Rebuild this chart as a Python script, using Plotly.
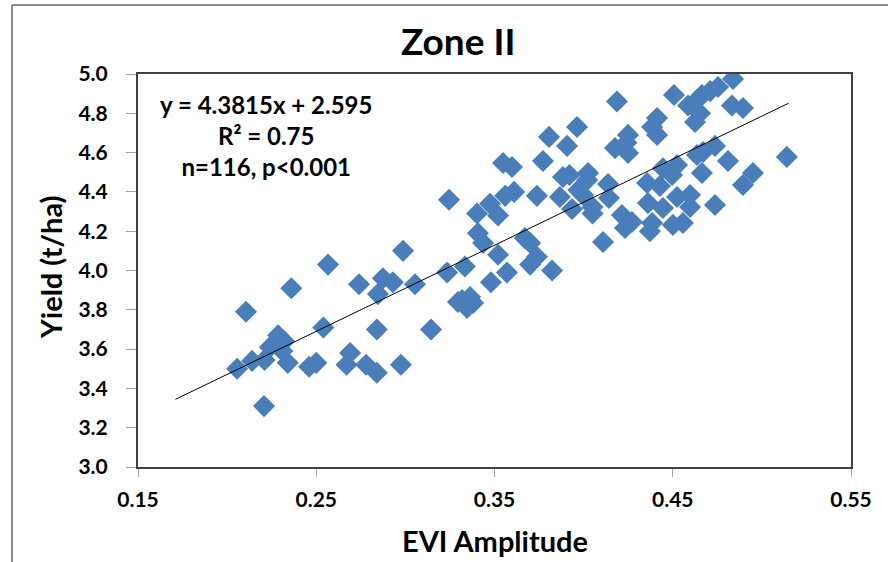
import plotly.graph_objects as go

evi = [0.2566, 0.274, 0.236, 0.2106, 0.254, 0.284, 0.2286, 0.232, 0.224, 0.231,
       0.214, 0.221, 0.2056, 0.234, 0.246, 0.250, 0.269, 0.267, 0.278, 0.284,
       0.2207, 0.2975, 0.2987, 0.2874, 0.293, 0.3054, 0.2846, 0.3144,
       0.3245, 0.3234, 0.3334, 0.3318, 0.3363, 0.3346, 0.3295, 0.338, 0.348, 0.357,
       0.352, 0.3738, 0.370, 0.3823, 0.3402, 0.352, 0.3475, 0.3407, 0.3436, 0.367,
       0.370, 0.356, 0.361, 0.3738, 0.3548, 0.3598, 0.3772, 0.3806, 0.3963, 0.3907,
       0.3867, 0.3884, 0.392, 0.4025, 0.402, 0.397, 0.3997, 0.3935, 0.405, 0.405,
       0.4109, 0.4137, 0.4142, 0.4187, 0.4176, 0.4249, 0.424, 0.4249, 0.4215, 0.4271,
       0.4232, 0.4838, 0.4754, 0.471, 0.4664, 0.4507, 0.4636, 0.4586, 0.4832, 0.4894,
       0.4653, 0.4625, 0.4412, 0.4384, 0.4412, 0.4636, 0.467, 0.4737, 0.481, 0.514,
       0.4524, 0.4445, 0.4496, 0.4664, 0.495, 0.4894, 0.4356, 0.4428, 0.4524, 0.4597,
       0.4361, 0.4445, 0.4597, 0.4737, 0.4384, 0.4372, 0.4501, 0.4557]
yld = [4.03, 3.93, 3.91, 3.79, 3.71, 3.70, 3.67, 3.64, 3.61, 3.59,
       3.54, 3.545, 3.50, 3.53, 3.51, 3.53, 3.58, 3.52, 3.52, 3.48,
       3.31, 3.52, 4.10, 3.96, 3.94, 3.93, 3.88, 3.70,
       4.36, 3.99, 4.02, 3.85, 3.865, 3.81, 3.84, 3.835, 3.94, 3.99,
       4.08, 4.07, 4.03, 4.00, 4.29, 4.28, 4.34, 4.19, 4.14, 4.165,
       4.14, 4.38, 4.40, 4.38, 4.547, 4.527, 4.557, 4.68, 4.73, 4.634,
       4.374, 4.476, 4.486, 4.496, 4.46, 4.41, 4.384, 4.313, 4.323, 4.29,
       4.145, 4.44, 4.369, 4.86, 4.623, 4.69, 4.65, 4.598, 4.282, 4.247,
       4.216, 4.975, 4.934, 4.913, 4.893, 4.893, 4.868, 4.84, 4.84, 4.827,
       4.80, 4.756, 4.776, 4.73, 4.69, 4.588, 4.603, 4.634, 4.557, 4.578,
       4.537, 4.52, 4.486, 4.496, 4.496, 4.435, 4.445, 4.43, 4.374, 4.384,
       4.343, 4.318, 4.323, 4.333, 4.242, 4.20, 4.232, 4.242]

slope = 4.3815
intercept = 2.595
trend_x = [0.171, 0.515]
trend_y = [slope * v + intercept for v in trend_x]

x_ticks = [0.15, 0.25, 0.35, 0.45, 0.55]
y_ticks = [3.0, 3.2, 3.4, 3.6, 3.8, 4.0, 4.2, 4.4, 4.6, 4.8, 5.0]

FONT = "Lato"
L, T, W, H = 138, 74, 713, 393  # plot area in pixels


def px(xp):
    return (xp - L) / W


def py(yp):
    return (T + H - yp) / H


fig = go.Figure()
fig.add_trace(go.Scatter(x=evi, y=yld, mode="markers",
                         marker=dict(symbol="diamond", size=17, color="#4A7EBB",
                                     line=dict(width=0)),
                         showlegend=False))
fig.add_trace(go.Scatter(x=trend_x, y=trend_y, mode="lines",
                         line=dict(color="black", width=1), showlegend=False))

fig.update_layout(
    width=888, height=562,
    margin=dict(l=L, r=888 - L - W, t=T, b=562 - T - H),
    paper_bgcolor="white", plot_bgcolor="white",
    title=dict(text="<b>Zone II</b>", x=0.516, xanchor="center", y=0.925, yanchor="middle",
               font=dict(family=FONT, size=37, color="black")),
    xaxis=dict(range=[0.15, 0.55], tickvals=x_ticks,
               ticktext=[f"<b>{v:.2f}</b>" for v in x_ticks],
               showgrid=False, zeroline=False, showline=True, linecolor="#404040", linewidth=2,
               mirror=True, ticks="outside", ticklen=8, tickcolor="#a0a0a0",
               ticklabelstandoff=5,
               tickfont=dict(family=FONT, size=21, color="black")),
    yaxis=dict(range=[3.0, 5.0], tickvals=y_ticks,
               ticktext=[f"<b>{v:.1f}</b>" for v in y_ticks],
               showgrid=False, zeroline=False, showline=True, linecolor="#404040", linewidth=2,
               mirror=True, ticks="outside", ticklen=10, tickcolor="#a0a0a0",
               ticklabelstandoff=14,
               tickfont=dict(family=FONT, size=21, color="black")),
    font=dict(family=FONT, color="black"),
)

# axis titles
fig.add_annotation(xref="paper", yref="paper", x=px(495), y=py(540),
                   text="<b>EVI Amplitude</b>", showarrow=False,
                   xanchor="center", yanchor="middle",
                   font=dict(family=FONT, size=29, color="black"))
fig.add_annotation(xref="paper", yref="paper", x=px(50), y=py(267),
                   text="<b>Yield (t/ha)</b>", showarrow=False, textangle=-90,
                   xanchor="center", yanchor="middle",
                   font=dict(family=FONT, size=29, color="black"))

# regression statistics
fig.add_annotation(xref="paper", yref="paper", x=px(266), y=py(135),
                   text="<b>y = 4.3815x + 2.595<br>R² = 0.75<br>n=116, p<0.001</b>",
                   showarrow=False, align="center", xanchor="center", yanchor="middle",
                   font=dict(family=FONT, size=24, color="black"))

# outer chart border (left and top edges)
fig.add_shape(type="line", xref="paper", yref="paper",
              x0=px(12), x1=px(12), y0=py(562), y1=py(5),
              line=dict(color="#8a8a8a", width=2))
fig.add_shape(type="line", xref="paper", yref="paper",
              x0=px(12), x1=px(888), y0=py(5), y1=py(5),
              line=dict(color="#8a8a8a", width=2))

fig.write_html("out.html")
